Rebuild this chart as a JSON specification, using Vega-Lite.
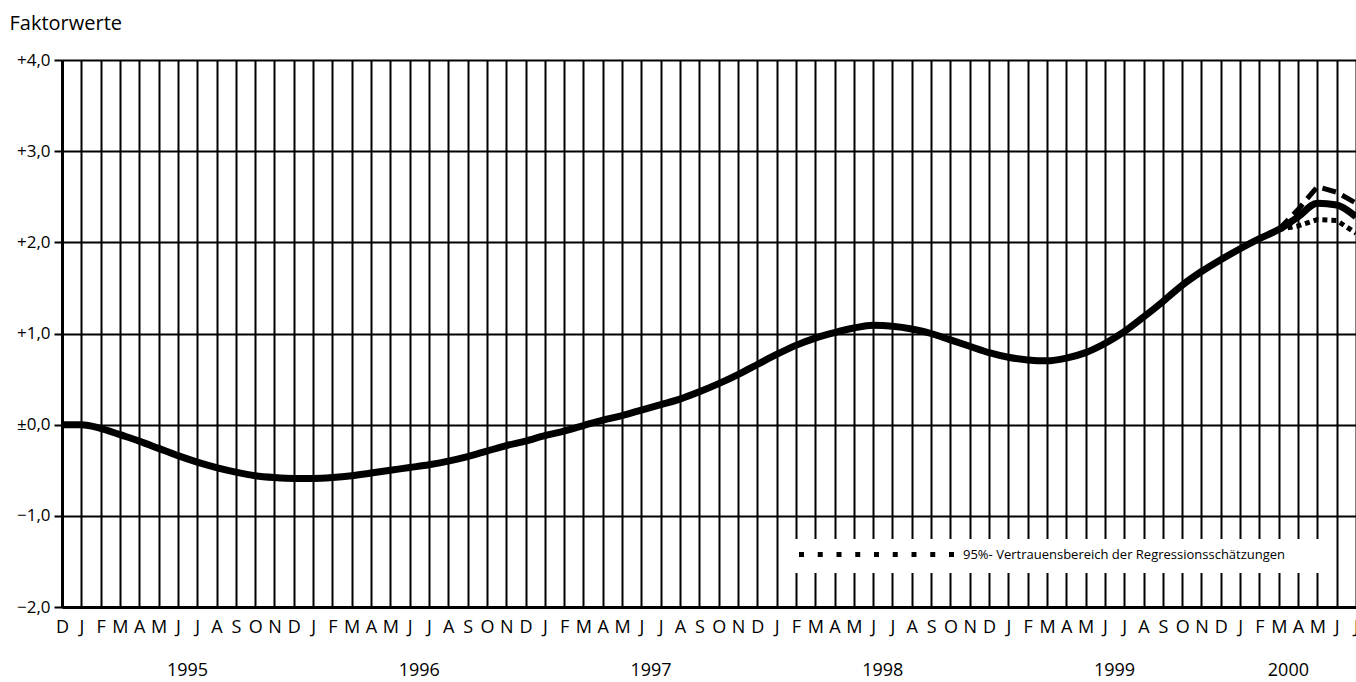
{
  "$schema": "https://vega.github.io/schema/vega-lite/v6.json",
  "width": 1294,
  "height": 547,
  "autosize": {"type": "none"},
  "padding": {"left": 62, "top": 60, "right": 0, "bottom": 75},
  "background": "white",
  "config": {
    "view": {"stroke": null},
    "font": "Open Sans"
  },
  "datasets": {
    "verlauf": [
      {"monat": "1994-12", "wert": 0.0},
      {"monat": "1995-01", "wert": 0.0},
      {"monat": "1995-02", "wert": -0.04},
      {"monat": "1995-03", "wert": -0.11},
      {"monat": "1995-04", "wert": -0.18},
      {"monat": "1995-05", "wert": -0.26},
      {"monat": "1995-06", "wert": -0.34},
      {"monat": "1995-07", "wert": -0.41},
      {"monat": "1995-08", "wert": -0.47},
      {"monat": "1995-09", "wert": -0.52},
      {"monat": "1995-10", "wert": -0.56},
      {"monat": "1995-11", "wert": -0.58},
      {"monat": "1995-12", "wert": -0.59},
      {"monat": "1996-01", "wert": -0.59},
      {"monat": "1996-02", "wert": -0.58},
      {"monat": "1996-03", "wert": -0.56},
      {"monat": "1996-04", "wert": -0.53},
      {"monat": "1996-05", "wert": -0.50},
      {"monat": "1996-06", "wert": -0.47},
      {"monat": "1996-07", "wert": -0.44},
      {"monat": "1996-08", "wert": -0.40},
      {"monat": "1996-09", "wert": -0.35},
      {"monat": "1996-10", "wert": -0.29},
      {"monat": "1996-11", "wert": -0.23},
      {"monat": "1996-12", "wert": -0.18},
      {"monat": "1997-01", "wert": -0.12},
      {"monat": "1997-02", "wert": -0.07},
      {"monat": "1997-03", "wert": -0.01},
      {"monat": "1997-04", "wert": 0.05},
      {"monat": "1997-05", "wert": 0.10},
      {"monat": "1997-06", "wert": 0.16},
      {"monat": "1997-07", "wert": 0.22},
      {"monat": "1997-08", "wert": 0.28},
      {"monat": "1997-09", "wert": 0.36},
      {"monat": "1997-10", "wert": 0.45},
      {"monat": "1997-11", "wert": 0.55},
      {"monat": "1997-12", "wert": 0.66},
      {"monat": "1998-01", "wert": 0.77},
      {"monat": "1998-02", "wert": 0.87},
      {"monat": "1998-03", "wert": 0.95},
      {"monat": "1998-04", "wert": 1.01},
      {"monat": "1998-05", "wert": 1.06},
      {"monat": "1998-06", "wert": 1.09},
      {"monat": "1998-07", "wert": 1.08},
      {"monat": "1998-08", "wert": 1.05},
      {"monat": "1998-09", "wert": 1.00},
      {"monat": "1998-10", "wert": 0.93},
      {"monat": "1998-11", "wert": 0.86},
      {"monat": "1998-12", "wert": 0.79},
      {"monat": "1999-01", "wert": 0.74},
      {"monat": "1999-02", "wert": 0.71},
      {"monat": "1999-03", "wert": 0.70},
      {"monat": "1999-04", "wert": 0.73},
      {"monat": "1999-05", "wert": 0.79},
      {"monat": "1999-06", "wert": 0.89},
      {"monat": "1999-07", "wert": 1.02},
      {"monat": "1999-08", "wert": 1.18},
      {"monat": "1999-09", "wert": 1.35},
      {"monat": "1999-10", "wert": 1.53},
      {"monat": "1999-11", "wert": 1.68},
      {"monat": "1999-12", "wert": 1.81},
      {"monat": "2000-01", "wert": 1.93},
      {"monat": "2000-02", "wert": 2.04},
      {"monat": "2000-03", "wert": 2.14},
      {"monat": "2000-04", "wert": 2.28},
      {"monat": "2000-05", "wert": 2.43},
      {"monat": "2000-06", "wert": 2.41},
      {"monat": "2000-07", "wert": 2.28}
    ],
    "obergrenze": [
      {"monat": "2000-03", "wert": 2.14},
      {"monat": "2000-04", "wert": 2.36},
      {"monat": "2000-05", "wert": 2.61},
      {"monat": "2000-06", "wert": 2.55},
      {"monat": "2000-07", "wert": 2.43}
    ],
    "untergrenze": [
      {"monat": "2000-03", "wert": 2.14, "band": "95%- Vertrauensbereich der Regressionsschätzungen"},
      {"monat": "2000-04", "wert": 2.18, "band": "95%- Vertrauensbereich der Regressionsschätzungen"},
      {"monat": "2000-05", "wert": 2.25, "band": "95%- Vertrauensbereich der Regressionsschätzungen"},
      {"monat": "2000-06", "wert": 2.24, "band": "95%- Vertrauensbereich der Regressionsschätzungen"},
      {"monat": "2000-07", "wert": 2.10, "band": "95%- Vertrauensbereich der Regressionsschätzungen"}
    ],
    "jahre": [
      {"monat": "1995-06", "jahr": "1995"},
      {"monat": "1996-06", "jahr": "1996"},
      {"monat": "1997-06", "jahr": "1997"},
      {"monat": "1998-06", "jahr": "1998"},
      {"monat": "1999-06", "jahr": "1999"},
      {"monat": "2000-03", "jahr": "2000"}
    ]
  },
  "encoding": {
    "x": {
      "field": "monat",
      "type": "ordinal",
      "title": null,
      "scale": {"type": "point", "padding": 0},
      "axis": {
        "title": null,
        "labelExpr": "substring('JFMAMJJASOND', toNumber(substring(datum.value, 5, 7)) - 1, toNumber(substring(datum.value, 5, 7)))",
        "labelAngle": 0,
        "labelFontSize": 18,
        "labelColor": "black",
        "labelPadding": 11,
        "labelOverlap": false,
        "ticks": false,
        "domainColor": "black",
        "domainWidth": 3,
        "grid": true,
        "gridColor": "black",
        "gridWidth": 2,
        "gridOpacity": 1
      }
    }
  },
  "layer": [
    {
      "data": {"name": "verlauf"},
      "mark": {"type": "line", "color": "black", "strokeWidth": 7, "interpolate": "monotone", "strokeJoin": "round", "strokeCap": "butt"},
      "encoding": {
        "y": {
          "field": "wert",
          "type": "quantitative",
          "title": "Faktorwerte",
          "scale": {"domain": [-2, 4], "nice": false, "zero": false},
          "axis": {
            "values": [-2, -1, 0, 1, 2, 3, 4],
            "labelExpr": "datum.value > 0 ? '+' + replace(format(datum.value, '.1f'), '.', ',') : (datum.value < 0 ? '−' + replace(format(-datum.value, '.1f'), '.', ',') : '±0,0')",
            "labelFontSize": 17,
            "labelColor": "black",
            "labelPadding": 4,
            "ticks": true,
            "tickSize": 8,
            "tickWidth": 2,
            "tickColor": "black",
            "domainColor": "black",
            "domainWidth": 3,
            "grid": true,
            "gridColor": "black",
            "gridWidth": 2,
            "gridOpacity": 1,
            "title": "Faktorwerte",
            "titleAngle": 0,
            "titleAlign": "left",
            "titleBaseline": "alphabetic",
            "titleX": -53,
            "titleY": -31,
            "titleFontSize": 20,
            "titleFontWeight": "normal",
            "titleColor": "black"
          }
        }
      }
    },
    {
      "data": {"name": "obergrenze"},
      "mark": {"type": "line", "color": "black", "strokeWidth": 5, "strokeDash": [14, 7]},
      "encoding": {
        "y": {"field": "wert", "type": "quantitative", "title": "Faktorwerte"}
      }
    },
    {
      "data": {"name": "untergrenze"},
      "mark": {"type": "line", "strokeWidth": 5, "strokeDash": [5, 4]},
      "encoding": {
        "y": {"field": "wert", "type": "quantitative", "title": "Faktorwerte"},
        "stroke": {
          "field": "band",
          "type": "nominal",
          "scale": {"range": ["black"]},
          "legend": {
            "title": " ",
            "titleOrient": "right",
            "titlePadding": 36,
            "titleFontSize": 13,
            "orient": "none",
            "legendX": 717,
            "legendY": 479,
            "fillColor": "white",
            "padding": 8,
            "symbolType": "M-15.5,0H15.5",
            "symbolSize": 100,
            "symbolStrokeWidth": 5,
            "symbolStrokeColor": "black",
            "symbolDash": [5, 13.75],
            "symbolOffset": 82,
            "labelOffset": 79,
            "labelFontSize": 13,
            "labelColor": "black",
            "labelLimit": 500,
            "encode": {"symbols": {"update": {"strokeDash": {"value": [5, 13.75]}, "strokeCap": {"value": "butt"}}}}
          }
        }
      }
    },
    {
      "data": {"name": "jahre"},
      "mark": {"type": "text", "dx": 9.65, "dy": 64, "baseline": "middle", "align": "center", "fontSize": 18, "color": "black"},
      "encoding": {
        "y": {"datum": -2, "type": "quantitative"},
        "text": {"field": "jahr", "type": "nominal"}
      }
    }
  ]
}
